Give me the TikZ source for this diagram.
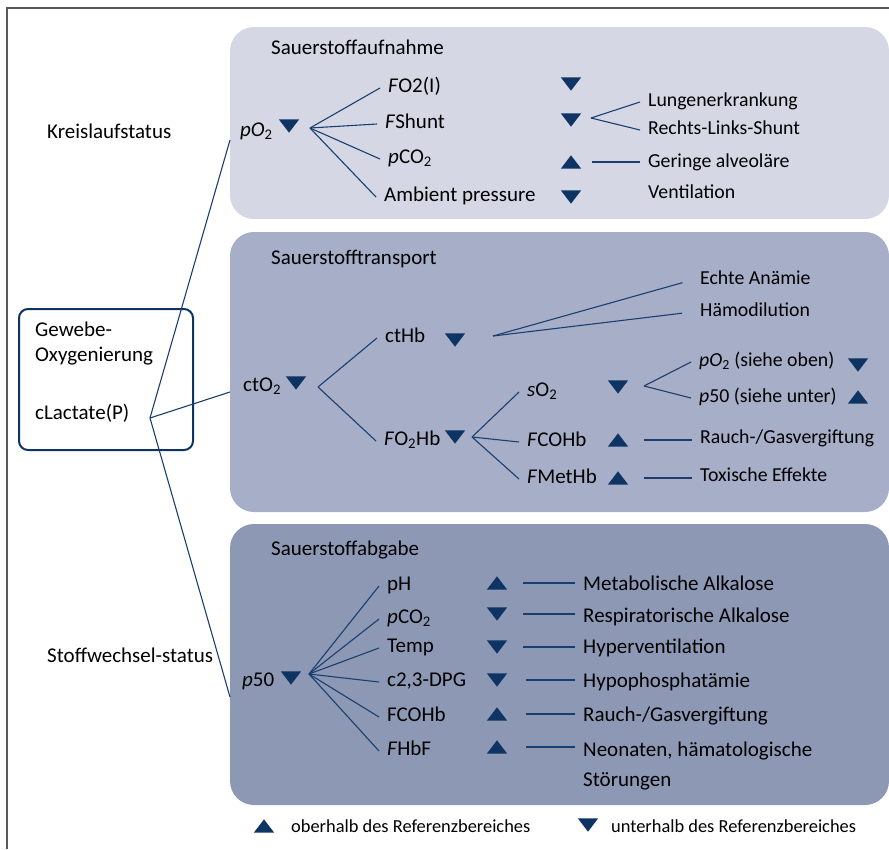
\documentclass[tikz,border=0pt]{standalone}
\usepackage{fontspec}
\setmainfont{Carlito}
\usepackage{xcolor}
\definecolor{NavyLine}{HTML}{1A3F6E}
\definecolor{NavyTri}{HTML}{0E3463}
\definecolor{PanelA}{HTML}{D5D8E4}
\definecolor{PanelB}{HTML}{A7AFC8}
\definecolor{PanelC}{HTML}{8D98B4}
\definecolor{FrameGray}{HTML}{5A5A5A}
\usepackage{tikz}

\tikzset{
	lbl/.style={anchor=west, inner xsep=8pt, inner ysep=0pt, text height=9pt, text depth=0pt, font=\fontsize{21}{24}\selectfont},
	lbls/.style={lbl, font=\fontsize{19.8}{23}\selectfont},
	leg/.style={lbl, font=\fontsize{18.4}{22}\selectfont},
	tri/.style={minimum width=20pt, minimum height=13pt, inner sep=0pt},
	link/.style={NavyLine, line width=1.1pt},
	panel/.style={rounded corners=24pt, inner sep=0pt, minimum width=659pt}
}
% triangles: down / up
\newcommand{\tdn}[2]{\node[tri] (#1) at (#2) {}; \fill[NavyTri] (#1.north west) -- (#1.north east) -- (#1.south) -- cycle;}
\newcommand{\tup}[2]{\node[tri] (#1) at (#2) {}; \fill[NavyTri] (#1.south west) -- (#1.south east) -- (#1.north) -- cycle;}

\begin{document}
\begin{tikzpicture}[x=1pt,y=-1pt]
		\useasboundingbox (0,0) rectangle (889,849);
		\draw[FrameGray, line width=1.2pt] (7,849) -- (7,8) -- (889,8);
		
		% panels
		\node[panel, fill=PanelA, minimum height=192pt] (aufnahme) at (559.5,123) {};
		\node[panel, fill=PanelB, minimum height=280pt] (transport) at (559.5,372) {};
		\node[panel, fill=PanelC, minimum height=281pt] (abgabe) at (559.5,664.5) {};
		\node[draw=NavyTri, line width=2pt, rounded corners=9pt, minimum width=174pt, minimum height=141pt, inner sep=0pt] (gewebe) at (106,379.5) {};
		
		% left side
		\node[lbl] (kreis) at (39,134) {Kreislaufstatus};
		\node[lbl] (gew) at (27,332) {Gewebe-};
		\node[lbl] (oxy) at (27,357) {Oxygenierung};
		\node[lbl] (lactate) at (27,415) {cLactate(P)};
		\node[lbl] (stoffw) at (39,658) {Stoffwechsel-status};
		\coordinate (lac) at (150,418);
		\coordinate (in1) at (230,140);
		\coordinate (in2) at (230,392);
		\coordinate (in3) at (230,697);
		\draw[link] (in1) -- (lac) -- (in3);
		\draw[link] (lac) -- (in2);
		
		% Sauerstoffaufnahme
		\node[lbl] (aufn) at (263,50) {Sauerstoffaufnahme};
		\node[lbl] (po2) at (232,132) {\textit{pO}\textsubscript{2}};
		\tdn{po2t}{289,126}
		\coordinate (po2b) at (310,128);
		\node[lbl] (fo2i) at (380,88) {\textit{F}O2(I)};
		\node[lbl] (fshunt) at (377,124) {\textit{F}Shunt};
		\node[lbl] (pco2a) at (380,159) {\textit{p}CO\textsubscript{2}};
		\node[lbl] (ambient) at (376,197) {Ambient pressure};
		\draw[link] (po2b) -- (fo2i.west);
		\draw[link] (po2b) -- (fshunt.west);
		\draw[link] (po2b) -- (pco2a.west);
		\draw[link] (po2b) -- (ambient.west);
		\tdn{fo2it}{571,84}
		\tdn{fshuntt}{571,120}
		\tup{pco2at}{571,162}
		\tdn{ambientt}{571,197}
		\coordinate (shuntb) at (591,118);
		\node[lbls] (lungen) at (640,102) {Lungenerkrankung};
		\node[lbls] (rechts) at (640,130) {Rechts-Links-Shunt};
		\node[lbls] (geringe) at (640,163) {Geringe alveoläre};
		\node[lbls] (ventil) at (640,194) {Ventilation};
		\draw[link] (shuntb) -- (lungen.west);
		\draw[link] (shuntb) -- (rechts.west);
		\draw[link] ([xshift=11pt]pco2at.east) -- (pco2at.east -| geringe.west);
		
		% Sauerstofftransport
		\node[lbl] (transp) at (263,260) {Sauerstofftransport};
		\node[lbl] (cto2) at (235,387) {ctO\textsubscript{2}};
		\tdn{cto2t}{296,383}
		\coordinate (cto2b) at (318,387);
		\node[lbl] (cthb) at (377,338) {ctHb};
		\node[lbl] (fo2hb) at (376,441) {\textit{F}O\textsubscript{2}Hb};
		\draw[link] (cto2b) -- (cthb.west);
		\draw[link] (cto2b) -- (fo2hb.west);
		\tdn{cthbt}{455,340}
		\coordinate (cthbb) at (493,336);
		\node[lbls] (echte) at (692,280) {Echte Anämie};
		\node[lbls] (haemo) at (692,312) {Hämodilution};
		\draw[link, shorten >=10pt] (cthbb) -- (echte.west);
		\draw[link, shorten >=10pt] (cthbb) -- (haemo.west);
		\tdn{fo2hbt}{455,437}
		\coordinate (fo2hbb) at (472,437);
		\node[lbl] (so2) at (519,392) {\textit{s}O\textsubscript{2}};
		\node[lbl] (fcohb) at (519,442) {\textit{F}COHb};
		\node[lbl] (fmethb) at (519,479) {\textit{F}MetHb};
		\draw[link] (fo2hbb) -- (so2.west);
		\draw[link] (fo2hbb) -- (fcohb.west);
		\draw[link] (fo2hbb) -- (fmethb.west);
		\tdn{so2t}{618,387}
		\tup{fcohbt}{618,440}
		\tup{fmethbt}{618,478}
		\coordinate (so2b) at (644,386);
		\node[lbls] (po2s) at (691,362) {\textit{pO}\textsubscript{2} (siehe oben)};
		\node[lbls] (p50s) at (691,398) {\textit{p}50 (siehe unter)};
		\draw[link] (so2b) -- (po2s.west);
		\draw[link] (so2b) -- (p50s.west);
		\tdn{po2st}{858,365}
		\tup{p50st}{858,397}
		\node[lbls] (rauchA) at (692,439) {Rauch-/Gasvergiftung};
		\node[lbls] (toxisch) at (692,477) {Toxische Effekte};
		\draw[link] ([xshift=16pt]fcohbt.east) -- (fcohbt.east -| rauchA.west);
		\draw[link] ([xshift=16pt]fmethbt.east) -- (fmethbt.east -| toxisch.west);
		
		% Sauerstoffabgabe
		\node[lbl] (abg) at (263,551) {Sauerstoffabgabe};
		\node[lbl] (p50) at (234,682) {\textit{p}50};
		\tdn{p50t}{291,678}
		\coordinate (p50b) at (309,674);
		\node[lbl] (ph) at (379,586) {pH};
		\node[lbl] (pco2b) at (379,619) {\textit{p}CO\textsubscript{2}};
		\node[lbl] (temp) at (379,648) {Temp};
		\node[lbl] (dpg) at (379,682) {c2,3-DPG};
		\node[lbl] (fcohbB) at (379,717) {FCOHb};
		\node[lbl] (fhbf) at (379,751) {\textit{F}HbF};
		\draw[link] (p50b) -- (ph.west);
		\draw[link] (p50b) -- (pco2b.west);
		\draw[link] (p50b) -- (temp.west);
		\draw[link] (p50b) -- (dpg.west);
		\draw[link] (p50b) -- (fcohbB.west);
		\draw[link] (p50b) -- (fhbf.west);
		\tup{pht}{497,583}
		\tdn{pco2bt}{497,614}
		\tdn{tempt}{497,647}
		\tdn{dpgt}{497,680}
		\tup{fcohbBt}{497,714}
		\tup{fhbft}{497,747}
		\node[lbl] (metab) at (575,586) {Metabolische Alkalose};
		\node[lbl] (respir) at (575,618) {Respiratorische Alkalose};
		\node[lbl] (hyper) at (575,649) {Hyperventilation};
		\node[lbl] (hypoph) at (575,683) {Hypophosphatämie};
		\node[lbl] (rauchB) at (575,717) {Rauch-/Gasvergiftung};
		\node[lbl] (neo) at (575,752) {Neonaten, hämatologische};
		\node[lbl] (stoer) at (575,782) {Störungen};
		\draw[link] ([xshift=16pt]pht.east) -- (pht.east -| metab.west);
		\draw[link] ([xshift=16pt]pco2bt.east) -- (pco2bt.east -| respir.west);
		\draw[link] ([xshift=16pt]tempt.east) -- (tempt.east -| hyper.west);
		\draw[link] ([xshift=19pt]dpgt.east) -- (dpgt.east -| hypoph.west);
		\draw[link] ([xshift=19pt]fcohbBt.east) -- (fcohbBt.east -| rauchB.west);
		\draw[link] ([xshift=19pt]fhbft.east) -- (fhbft.east -| neo.west);
		
		% legend
		\tup{legup}{264,826}
		\node[leg] (oberhalb) at (283,828) {oberhalb des Referenzbereiches};
		\tdn{legdn}{588,825}
		\node[leg] (unterhalb) at (603,828) {unterhalb des Referenzbereiches};
		
	\end{tikzpicture}
\end{document}
